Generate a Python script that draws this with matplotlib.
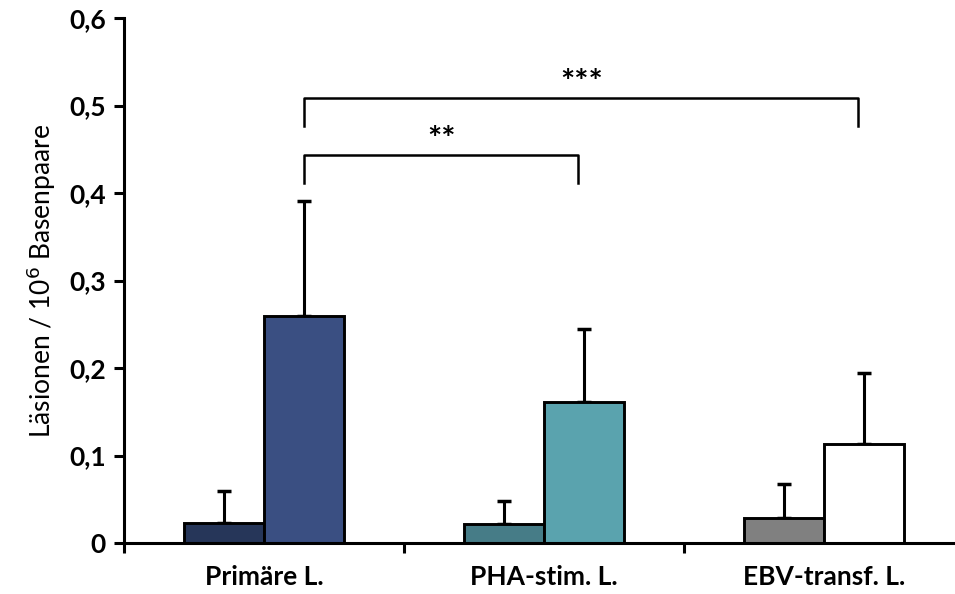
import numpy as np
import matplotlib
matplotlib.use("Agg")
import matplotlib.pyplot as plt
from matplotlib.ticker import FuncFormatter, FixedLocator

# data
groups = ["Primäre L.", "PHA-stim. L.", "EBV-transf. L."]
small_vals = [0.023, 0.022, 0.029]
small_err = [0.037, 0.026, 0.038]
big_vals = [0.259, 0.161, 0.113]
big_err = [0.132, 0.084, 0.081]
small_colors = ["#263659", "#467c87", "#808080"]
big_colors = ["#3a4f82", "#5aa3ae", "#ffffff"]

# significance brackets: (from group, to group, height, drop, label)
brackets = [(0, 1, 0.443, 0.032, "**"), (0, 2, 0.509, 0.032, "***")]

plt.rcParams['font.family'] = ['Lato', 'DejaVu Sans']

fig = plt.figure(figsize=(9.55, 5.94), dpi=100)
ax = fig.add_axes([124 / 955, 51 / 594, 840 / 955, 525 / 594])

x = np.arange(len(groups))
w = 0.286
lw = 2.1

ax.bar(x - w / 2, small_vals, width=w, color=small_colors, edgecolor="black",
       linewidth=lw, zorder=2)
ax.bar(x + w / 2, big_vals, width=w, color=big_colors, edgecolor="black",
       linewidth=lw, zorder=2)
ax.errorbar(x - w / 2, small_vals, yerr=[np.zeros(3), small_err], fmt="none",
            ecolor="black", elinewidth=2.2, capsize=5, capthick=2.5, zorder=1)
ax.errorbar(x + w / 2, big_vals, yerr=[np.zeros(3), big_err], fmt="none",
            ecolor="black", elinewidth=2.2, capsize=5, capthick=2.5, zorder=1)

# brackets
for g0, g1, h, d, lab in brackets:
    x0 = g0 + w / 2
    x1 = g1 + w / 2 - 0.02
    ax.plot([x0, x0, x1, x1], [h - d, h, h, h - d], color="black", lw=1.8,
            clip_on=False)
    ax.text((x0 + x1) / 2, h + 0.0, lab, ha="center", va="bottom",
            fontsize=24, fontweight="bold")

ax.set_xlim(-0.5, 2.5)
ax.set_ylim(0, 0.6)
ax.set_yticks(np.arange(0, 0.61, 0.1))
ax.yaxis.set_major_formatter(FuncFormatter(
    lambda v, p: "0" if abs(v) < 1e-9 else f"{v:.1f}".replace(".", ",")))
ax.set_xticks(x)
ax.set_xticklabels(groups)
ax.xaxis.set_minor_locator(FixedLocator([-0.5, 0.5, 1.5, 2.5]))
ax.tick_params(axis="x", which="major", length=0, pad=16, labelsize=19)
ax.tick_params(axis="x", which="minor", length=7, width=2.2, direction="out")
ax.tick_params(axis="y", length=7, width=2.2, direction="out", pad=6, labelsize=19)
for lab in ax.get_xticklabels() + ax.get_yticklabels():
    lab.set_fontweight("bold")

for s in ["top", "right"]:
    ax.spines[s].set_visible(False)
for s in ["left", "bottom"]:
    ax.spines[s].set_linewidth(2.2)

ax.set_ylabel("Läsionen / 10$^{6}$ Basenpaare", fontsize=19, labelpad=8)

fig.savefig("out.png", dpi=100)
